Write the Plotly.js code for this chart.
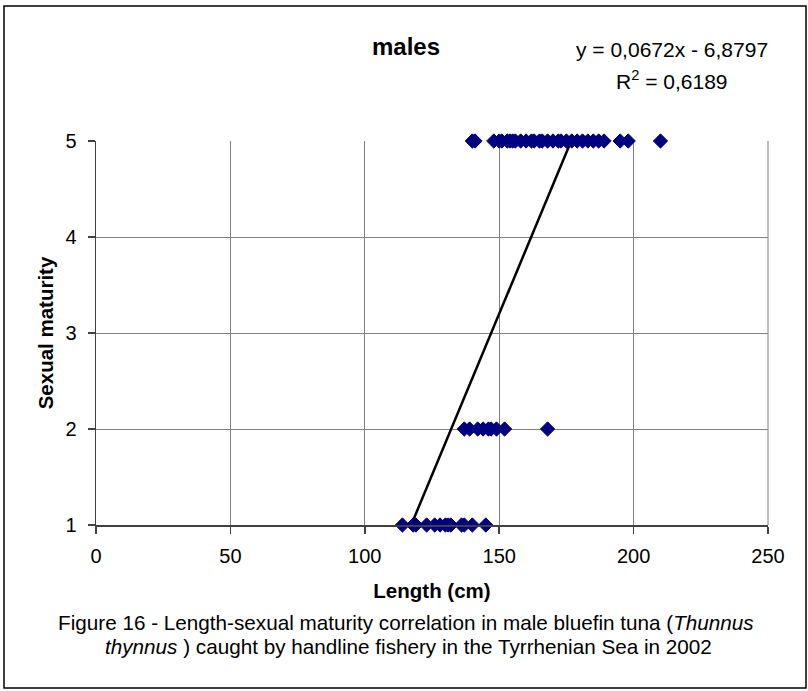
<!DOCTYPE html>
<html>
<head>
<meta charset="utf-8">
<script src="https://cdn.plot.ly/plotly-3.0.1.min.js"></script>
<style>
  html, body { margin: 0; padding: 0; background: #fff; }
  #chart { width: 808px; height: 691px; }
</style>
</head>
<body>
<div id="chart"></div>
<script>
// ---- data ----
const lengthsStage1 = [114, 118, 119, 123, 126, 128, 130, 131, 132, 136, 137, 140, 145];
const lengthsStage2 = [137, 139, 142, 144, 146, 147, 149, 152, 168];
const lengthsStage5 = [140, 141, 148, 150, 151, 153, 154, 155, 156, 158, 160, 162, 163, 165, 166,
                       168, 170, 172, 173, 175, 177, 179, 181, 183, 185, 187, 189, 195, 198, 210];
const stageValues = [1, 2, 5];
const trendSlope = 0.0672;
const trendIntercept = -6.8797;
const trendR2 = 0.6189;
const xTicks = [0, 50, 100, 150, 200, 250];
const yTicks = [1, 2, 3, 4, 5];
const titleText = 'males';
const xTitle = 'Length (cm)';
const yTitle = 'Sexual maturity';
const captionLine1 = 'Figure 16 - Length-sexual maturity correlation in male bluefin tuna (<i>Thunnus</i>';
const captionLine2 = '<i>thynnus</i> ) caught by handline fishery in the Tyrrhenian Sea in 2002';

// ---- build traces ----
const groups = [lengthsStage1, lengthsStage2, lengthsStage5];
const xs = [], ys = [];
groups.forEach((g, i) => g.forEach(v => { xs.push(v); ys.push(stageValues[i]); }));
const xMin = Math.min(...xs), xMax = Math.max(...xs);
const fmt = (v) => v.toFixed(4).replace('.', ',');

const FONT = 'Liberation Sans, Arial, sans-serif';

const trend = {
  x: [xMin, xMax],
  y: [trendSlope * xMin + trendIntercept, trendSlope * xMax + trendIntercept],
  mode: 'lines', type: 'scatter',
  line: { color: '#000000', width: 2.5 },
  hoverinfo: 'skip', showlegend: false
};
const points = {
  x: xs, y: ys, mode: 'markers', type: 'scatter',
  marker: { symbol: 'diamond', size: 11, color: '#000080', line: { color: '#000080', width: 1 } },
  cliponaxis: false, showlegend: false
};

// pixel helpers for plot area (l=96, r=768, t=141, b=525)
const PL = 96, PR = 768, PT = 141, PB = 525;
const px = (x) => (x - PL) / (PR - PL);
const py = (y) => (PB - y) / (PB - PT);

const layout = {
  width: 808, height: 691,
  margin: { l: PL, r: 808 - PR, t: PT, b: 691 - PB, pad: 0 },
  paper_bgcolor: '#ffffff', plot_bgcolor: '#ffffff',
  font: { family: FONT, color: '#000000', size: 20 },
  title: {
    text: '<b>' + titleText + '</b>',
    font: { family: FONT, size: 24, color: '#000000' },
    xref: 'container', yref: 'container',
    x: 406 / 808, y: 1 - 47 / 691, xanchor: 'center', yanchor: 'middle'
  },
  xaxis: {
    range: [0, 250], tickvals: xTicks, ticktext: xTicks.map(String),
    showgrid: true, gridcolor: '#808080', gridwidth: 1,
    zeroline: false, showline: true, linecolor: '#404040', linewidth: 1.5,
    ticks: 'outside', ticklen: 7, tickcolor: '#404040', tickwidth: 1.5,
    ticklabelstandoff: 5,
    tickfont: { family: FONT, size: 20, color: '#000000' },
    title: { text: '<b>' + xTitle + '</b>', font: { family: FONT, size: 20.5, color: '#000000' }, standoff: 18 },
    automargin: false, fixedrange: true
  },
  yaxis: {
    range: [1, 5], tickvals: yTicks, ticktext: yTicks.map(String),
    showgrid: true, gridcolor: '#808080', gridwidth: 1,
    zeroline: false, showline: true, linecolor: '#404040', linewidth: 1.5,
    ticks: 'outside', ticklen: 7, tickcolor: '#404040', tickwidth: 1.5,
    ticklabelstandoff: 7,
    tickfont: { family: FONT, size: 20, color: '#000000' },
    title: { text: '<b>' + yTitle + '</b>', font: { family: FONT, size: 20.5, color: '#000000' }, standoff: 6 },
    automargin: false, fixedrange: true
  },
  shapes: [
    { type: 'line', xref: 'paper', yref: 'paper', x0: 1, x1: 1, y0: 0, y1: 1,
      line: { color: '#808080', width: 1 } },
    { type: 'rect', xref: 'paper', yref: 'paper',
      x0: px(4), x1: px(806), y0: py(688), y1: py(6),
      line: { color: '#000000', width: 1.5 }, fillcolor: 'rgba(0,0,0,0)' }
  ],
  annotations: [
    { xref: 'paper', yref: 'paper', x: px(672), y: py(50), xanchor: 'center', yanchor: 'middle',
      text: 'y = ' + fmt(trendSlope) + 'x - ' + fmt(-trendIntercept), showarrow: false,
      font: { family: FONT, size: 21, color: '#000000' } },
    { xref: 'paper', yref: 'paper', x: px(672), y: py(80), xanchor: 'center', yanchor: 'middle',
      text: 'R<sup>2</sup> = ' + fmt(trendR2), showarrow: false,
      font: { family: FONT, size: 21, color: '#000000' } },
    { xref: 'paper', yref: 'paper', x: px(406), y: py(622), xanchor: 'center', yanchor: 'middle',
      text: captionLine1, showarrow: false,
      font: { family: FONT, size: 20.7, color: '#000000' } },
    { xref: 'paper', yref: 'paper', x: px(408), y: py(646), xanchor: 'center', yanchor: 'middle',
      text: captionLine2, showarrow: false,
      font: { family: FONT, size: 20.7, color: '#000000' } }
  ]
};

Plotly.newPlot('chart', [trend, points], layout, { displayModeBar: false, staticPlot: true });
</script>
</body>
</html>
